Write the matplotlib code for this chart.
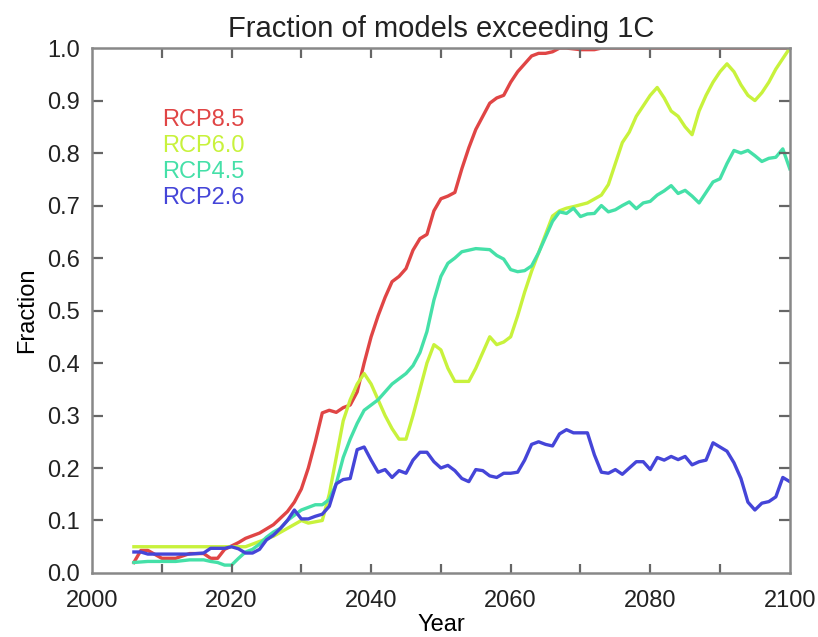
import matplotlib
matplotlib.use('Agg')
import matplotlib.pyplot as plt

# RCP8.5
years_85 = [2006, 2007, 2008, 2010, 2012, 2014, 2016, 2017, 2018, 2019, 2021, 2022, 2024, 2026,
            2028, 2029, 2030, 2031, 2032, 2033, 2034, 2035, 2036, 2037, 2038, 2039, 2040, 2041,
            2042, 2043, 2044, 2045, 2046, 2047, 2048, 2049, 2050, 2051, 2052, 2053, 2054, 2055,
            2056, 2057, 2058, 2059, 2060, 2061, 2062, 2063, 2064, 2065, 2066, 2067, 2068, 2070,
            2072, 2073, 2100]
frac_85 = [0.02, 0.043, 0.043, 0.028, 0.028, 0.037, 0.037, 0.028, 0.028, 0.045, 0.058, 0.066,
           0.076, 0.092, 0.117, 0.135, 0.16, 0.2, 0.25, 0.305, 0.31, 0.306, 0.315, 0.32, 0.345,
           0.4, 0.45, 0.49, 0.525, 0.555, 0.565, 0.58, 0.615, 0.637, 0.645, 0.69, 0.713, 0.718,
           0.725, 0.77, 0.81, 0.845, 0.87, 0.895, 0.905, 0.91, 0.935, 0.955, 0.97, 0.985, 0.99,
           0.99, 0.993, 1.0, 1.0, 0.997, 0.997, 1.0, 1.0]

# RCP6.0
years_60 = [2006, 2021, 2022, 2024, 2026, 2028, 2030, 2031, 2033, 2034, 2035, 2036, 2037, 2038,
            2039, 2040, 2041, 2042, 2043, 2044, 2045, 2046, 2047, 2048, 2049, 2050, 2051, 2052,
            2054, 2055, 2056, 2057, 2058, 2059, 2060, 2061, 2062, 2063, 2064, 2065, 2066, 2067,
            2068, 2069, 2071, 2073, 2074, 2075, 2076, 2077, 2078, 2079, 2080, 2081, 2082, 2083,
            2084, 2085, 2086, 2087, 2088, 2089, 2090, 2091, 2092, 2093, 2094, 2095, 2096, 2097,
            2098, 2099, 2100]
frac_60 = [0.05, 0.05, 0.05, 0.06, 0.07, 0.085, 0.1, 0.095, 0.1, 0.15, 0.22, 0.29, 0.33, 0.36,
           0.38, 0.36, 0.33, 0.3, 0.275, 0.255, 0.255, 0.3, 0.35, 0.4, 0.435, 0.425, 0.39, 0.365,
           0.365, 0.39, 0.42, 0.45, 0.435, 0.44, 0.45, 0.49, 0.535, 0.575, 0.61, 0.645, 0.68,
           0.69, 0.695, 0.698, 0.705, 0.72, 0.74, 0.78, 0.82, 0.84, 0.87, 0.89, 0.91, 0.925,
           0.905, 0.88, 0.87, 0.85, 0.835, 0.88, 0.91, 0.935, 0.955, 0.97, 0.955, 0.93, 0.91,
           0.9, 0.915, 0.935, 0.96, 0.98, 1.0]

# RCP4.5
years_45 = [2006, 2008, 2010, 2012, 2014, 2016, 2017, 2018, 2019, 2020, 2021, 2022, 2023, 2024,
            2025, 2026, 2027, 2028, 2029, 2030, 2031, 2032, 2033, 2034, 2035, 2036, 2037, 2038,
            2039, 2040, 2041, 2042, 2043, 2044, 2045, 2046, 2047, 2048, 2049, 2050, 2051, 2052,
            2053, 2055, 2057, 2058, 2059, 2060, 2061, 2062, 2063, 2064, 2065, 2066, 2067, 2068,
            2069, 2070, 2071, 2072, 2073, 2074, 2075, 2076, 2077, 2078, 2079, 2080, 2081, 2082,
            2083, 2084, 2085, 2086, 2087, 2088, 2089, 2090, 2091, 2092, 2093, 2094, 2095, 2096,
            2097, 2098, 2099, 2100]
frac_45 = [0.02, 0.022, 0.022, 0.022, 0.025, 0.025, 0.022, 0.02, 0.015, 0.015, 0.028, 0.04,
           0.045, 0.055, 0.068, 0.078, 0.085, 0.1, 0.11, 0.12, 0.125, 0.13, 0.13, 0.14, 0.17,
           0.22, 0.255, 0.285, 0.31, 0.32, 0.33, 0.345, 0.36, 0.37, 0.38, 0.395, 0.42, 0.46,
           0.52, 0.565, 0.59, 0.6, 0.612, 0.618, 0.616, 0.605, 0.598, 0.578, 0.574, 0.576,
           0.585, 0.61, 0.64, 0.67, 0.688, 0.685, 0.695, 0.679, 0.684, 0.685, 0.7, 0.688, 0.692,
           0.7, 0.707, 0.694, 0.705, 0.708, 0.72, 0.728, 0.738, 0.723, 0.729, 0.718, 0.705,
           0.725, 0.745, 0.751, 0.78, 0.805, 0.8, 0.805, 0.795, 0.784, 0.79, 0.792, 0.808, 0.77]

# RCP2.6
years_26 = [2006, 2007, 2008, 2010, 2012, 2014, 2016, 2017, 2019, 2020, 2021, 2022, 2023, 2024,
            2025, 2026, 2027, 2028, 2029, 2030, 2031, 2032, 2033, 2034, 2035, 2036, 2037, 2038,
            2039, 2040, 2041, 2042, 2043, 2044, 2045, 2046, 2047, 2048, 2049, 2050, 2051, 2052,
            2053, 2054, 2055, 2056, 2057, 2058, 2059, 2060, 2061, 2062, 2063, 2064, 2065, 2066,
            2067, 2068, 2069, 2070, 2071, 2072, 2073, 2074, 2075, 2076, 2077, 2078, 2079, 2080,
            2081, 2082, 2083, 2084, 2085, 2086, 2087, 2088, 2089, 2090, 2091, 2092, 2093, 2094,
            2095, 2096, 2097, 2098, 2099, 2100]
frac_26 = [0.04, 0.04, 0.036, 0.036, 0.036, 0.036, 0.038, 0.047, 0.047, 0.05, 0.046, 0.038,
           0.038, 0.045, 0.063, 0.072, 0.085, 0.1, 0.12, 0.103, 0.103, 0.108, 0.112, 0.127, 0.17,
           0.178, 0.18, 0.235, 0.24, 0.215, 0.192, 0.197, 0.182, 0.195, 0.19, 0.215, 0.23, 0.23,
           0.212, 0.2, 0.205, 0.195, 0.18, 0.174, 0.197, 0.195, 0.185, 0.182, 0.19, 0.19, 0.192,
           0.215, 0.245, 0.25, 0.245, 0.242, 0.265, 0.273, 0.267, 0.267, 0.267, 0.225, 0.192,
           0.19, 0.197, 0.188, 0.2, 0.212, 0.212, 0.197, 0.22, 0.215, 0.222, 0.216, 0.222, 0.206,
           0.212, 0.215, 0.248, 0.24, 0.232, 0.21, 0.18, 0.135, 0.12, 0.133, 0.136, 0.145, 0.182,
           0.174]

scenarios = ['RCP8.5', 'RCP6.0', 'RCP4.5', 'RCP2.6']
colors = ['#e04545', '#c8f23c', '#45e0a8', '#4545d8']
x_ticks = list(range(2000, 2101, 10))
y_ticks = [i / 10 for i in range(11)]

plt.rcParams['font.family'] = ['Liberation Sans', 'DejaVu Sans']
plt.rcParams['text.color'] = '#222222'

fig = plt.figure(figsize=(8.18, 6.37), dpi=100)
ax = fig.add_axes([0.1125, 0.1005, 0.853, 0.824])

series = [(years_85, frac_85), (years_60, frac_60), (years_45, frac_45), (years_26, frac_26)]
for (yrs, vals), c in zip(series, colors):
    ax.plot(yrs, vals, color=c, lw=2.4)

ax.set_xlim(2000, 2100)
ax.set_ylim(0, 1.0)
ax.set_xticks(x_ticks)
ax.set_xticklabels([str(y) if y % 20 == 0 else '' for y in x_ticks])
ax.set_yticks(y_ticks)
ax.set_yticklabels(['%.1f' % v for v in y_ticks])
ax.tick_params(direction='in', length=0, labelsize=17, labelcolor='#222222')
ax.tick_params(axis='x', pad=12)
ax.tick_params(axis='y', pad=9)

# inward tick marks on all four sides, drawn as short segments
tick_kw = dict(color='#666666', lw=1.6, solid_capstyle='butt', clip_on=False)
xtr = ax.get_xaxis_transform()
ytr = ax.get_yaxis_transform()
for x in x_ticks[1:-1]:
    ax.plot([x, x], [0, 0.018], transform=xtr, **tick_kw)
    ax.plot([x, x], [1, 0.982], transform=xtr, **tick_kw)
for y in y_ticks[1:-1]:
    ax.plot([0, 0.016], [y, y], transform=ytr, **tick_kw)
    ax.plot([1, 0.984], [y, y], transform=ytr, **tick_kw)

for sp in ax.spines.values():
    sp.set_color('#888888')
    sp.set_linewidth(1.8)

ax.set_title('Fraction of models exceeding 1C', fontsize=21, pad=8)
ax.set_xlabel('Year', fontsize=17, labelpad=2)
ax.set_ylabel('Fraction', fontsize=17, labelpad=6)

# coloured text legend
for i, (name, c) in enumerate(zip(scenarios, colors)):
    ax.text(0.1, 0.863 - 0.0497 * i, name, color=c, fontsize=17,
            transform=ax.transAxes, va='center', ha='left')

fig.savefig('out.png', dpi=100)
